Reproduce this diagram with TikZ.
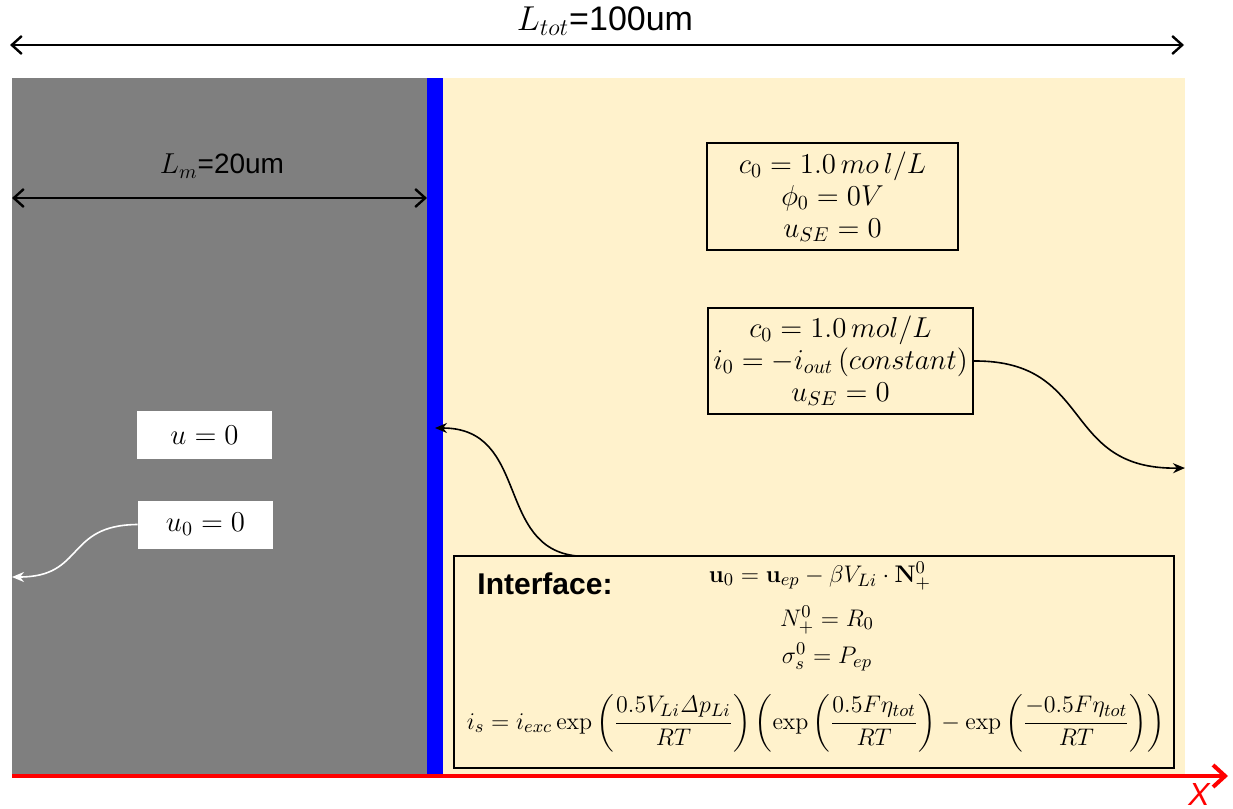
\documentclass[tikz,border=0pt]{standalone}
\usepackage{amsmath}
\usepackage[no-math]{fontspec}
\setmainfont{Liberation Sans}
\usetikzlibrary{arrows.meta}
\definecolor{anode}{RGB}{127,127,127}
\definecolor{elyte}{RGB}{255,242,204}
\definecolor{sep}{RGB}{0,0,255}
\definecolor{axis}{RGB}{255,0,0}
\newcommand{\eqsz}{\fontsize{13}{16}\selectfont}
\newcommand{\bcsz}{\fontsize{14.5}{16}\selectfont}
\tikzset{
  bcbox/.style   = {draw, thick, fill=elyte, align=center, font=\bcsz, inner sep=0pt},
  whbox/.style   = {fill=white, font=\bcsz, minimum width=67.5pt, minimum height=24pt},
  eqline/.style  = {font=\eqsz, inner sep=0pt},
  dimarrow/.style= {line width=1.2pt, {Straight Barb[length=5pt,width=9pt]}-{Straight Barb[length=5pt,width=9pt]}},
  lead/.style    = {thick, -{Stealth[length=6pt,width=5pt]}},
  dimlabel/.style= {font=\fontsize{14}{16}\selectfont, inner sep=0pt},
}
\begin{document}
\begin{tikzpicture}[x=0.5pt, y=-0.5pt]
  \useasboundingbox (0,0) rectangle (1233,809);
  % regions
  \fill[anode] (12,78) rectangle (427,776);
  \fill[sep]   (427,78) rectangle (443,776);
  \fill[elyte] (443,78) rectangle (1185,776);

  % total length
  \coordinate (totl) at (10,45);
  \coordinate (totr) at (1184,45);
  \draw[dimarrow] (totl) -- (totr);
  \node[dimlabel, font=\fontsize{17}{19}\selectfont] (ltot) at (605,21) {$L_{tot}$=100um};

  % anode length
  \coordinate (lml) at (12,198);
  \coordinate (lmr) at (427,198);
  \draw[dimarrow] (lml) -- (lmr);
  \node[dimlabel] (lm) at (222,166) {$L_m$=20um};

  % boundary condition boxes
  \node[bcbox, minimum width=125.5pt, minimum height=53.5pt] (bulk) at (832.5,196.5)
    {$c_0 = 1.0\,mo\,l/L$\\ $\phi_0 = 0V$\\ $u_{SE} = 0$};
  \node[bcbox, minimum width=132.5pt, minimum height=53pt] (bound) at (840.5,361)
    {$c_0 = 1.0\,mol/L$\\ $i_0 = -i_{out}\,(constant)$\\ $u_{SE} = 0$};
  \node[whbox] (udisp) at (204.5,435) {$u = 0$};
  \node[whbox] (ufix) at (205.5,524.5) {$u_0 = 0$};

  % interface box
  \node[bcbox, minimum width=360pt, minimum height=106pt] (intf) at (814,662) {};
  \node[font=\fontsize{15}{17}\selectfont\bfseries, inner sep=0pt] (intlab) at (545,584) {Interface:};
  \node[eqline] (equ) at (820,576) {$\mathbf{u}_0 = \mathbf{u}_{ep} - \beta V_{Li}\cdot \mathbf{N}_+^0$};
  \node[eqline] (eqn) at (827,620) {$N_+^0 = R_0$};
  \node[eqline] (eqs) at (827,657) {$\sigma_s^0 = P_{ep}$};
  \node[eqline] (eqi) at (816,723) {$\displaystyle i_s = i_{exc}\exp\left(\frac{0.5V_{Li}\mathit{\Delta} p_{Li}}{RT}\right)\left(\exp\left(\frac{0.5F\eta_{tot}}{RT}\right) - \exp\left(\frac{-0.5F\eta_{tot}}{RT}\right)\right)$};

  % leaders
  \coordinate (rside) at (1185,468);
  \coordinate (lside) at (12,577);
  \coordinate (sface) at (435,428);
  \coordinate (intop) at (577,556);
  \draw[lead] (bound.east) .. controls (1095,360) and (1060,470) .. (rside);
  \draw[lead] (intop) .. controls (495,548) and (530,428) .. (sface);
  \draw[lead, white] (ufix.west) .. controls (65,525) and (85,577) .. (lside);

  % x axis
  \coordinate (xo) at (12,776);
  \coordinate (xe) at (1228,776);
  \draw[axis, line width=2pt, -{Straight Barb[length=6pt,width=11pt]}] (xo) -- (xe);
  \node[text=axis, font=\fontsize{16}{18}\selectfont\itshape, inner sep=0pt] (xlab) at (1199,794) {X};
\end{tikzpicture}
\end{document}
